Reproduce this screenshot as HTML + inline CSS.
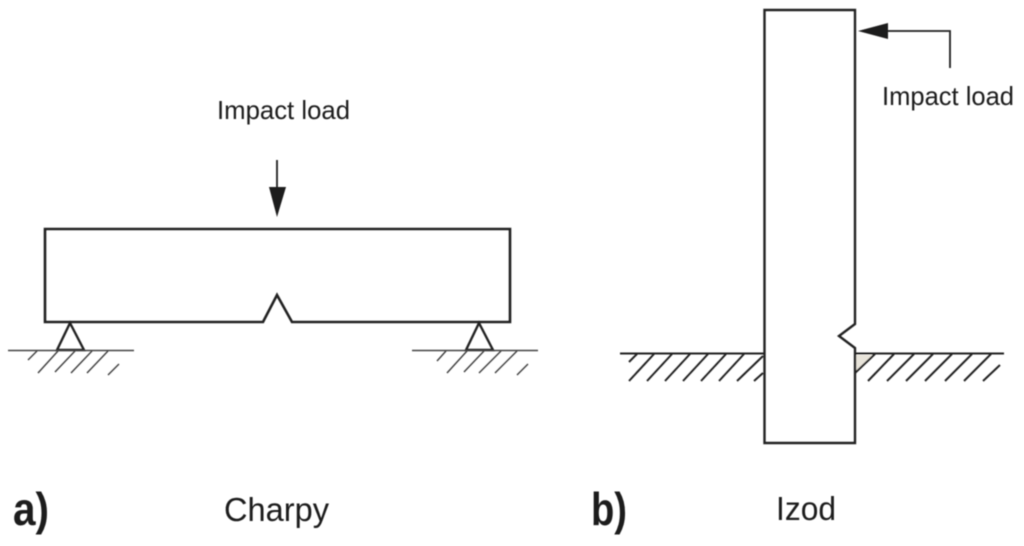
<!DOCTYPE html>
<html>
<head>
<meta charset="utf-8">
<style>
html,body{margin:0;padding:0;background:#fff;width:1024px;height:546px;overflow:hidden}
svg{display:block}
text{font-family:"Liberation Sans",sans-serif;fill:#1c1c1c}
</style>
</head>
<body>
<svg width="1024" height="546" viewBox="0 0 1024 546" xmlns="http://www.w3.org/2000/svg">
<defs><filter id="b" x="-2%" y="-2%" width="104%" height="104%"><feGaussianBlur stdDeviation="0.45"/></filter></defs>
<rect width="1024" height="546" fill="#fff"/>
<g filter="url(#b)">
<!-- Charpy beam -->
<g fill="none" stroke="#222" stroke-width="2.6" stroke-linejoin="miter">
<path d="M45 229H510V322H292L277 295L263 322H45Z"/>
<path d="M70 323L57 350H84Z" stroke-width="2.4"/>
<path d="M479 323L466 350H493Z" stroke-width="2.4"/>
</g>
<g stroke="#444" stroke-width="1.5" fill="none">
<path d="M8 350.500H134M412 350.500H538"/>
<path d="M37 351L28 360M58 351L38 373M75 351L55 372M92 351L71 373M108 351L87 373M119 364L108 375"/>
<path d="M446 351L437 361M467 351L447 373M484 351L464 372M501 351L479 373M517 351L495 373M528 364L517 375"/>
</g>
<!-- Charpy arrow -->
<path d="M277 160V190" stroke="#222" stroke-width="1.800" fill="none"/>
<path d="M269 187H286L277 217Z" fill="#1c1a1a"/>
<!-- Izod ground -->
<path d="M856 355H874L856 372Z" fill="#e8e4da"/>
<g stroke="#222" stroke-width="2" fill="none">
<path d="M620 353.500H764M855 353.500H1004"/>
<path d="M637 354L629 362M654 354L629 381M672 354L647 381M690 354L665 381M708 354L683 381M726 354L701 381M744 354L719 381M763 356L737 381M763 373L754 381"/>
<path d="M875 354L855 373M894 354L868 381M914 354L887 381M933 354L906 381M952 354L925 381M972 354L945 381M991 354L964 381M1000 365L983 381"/>
</g>
<!-- Izod column -->
<path d="M764.500 10H855V324L839 336L855 348V443H764.500Z" fill="none" stroke="#222" stroke-width="2.4"/>
<!-- Izod arrow -->
<path d="M886 31H950V68" stroke="#222" stroke-width="1.800" fill="none"/>
<path d="M858 31L888 23V39Z" fill="#1c1a1a"/>
<!-- Labels -->
<text x="217" y="119" font-size="26" textLength="133" lengthAdjust="spacingAndGlyphs">Impact load</text>
<text x="882" y="105" font-size="26" textLength="132" lengthAdjust="spacingAndGlyphs">Impact load</text>
<text x="224" y="521" font-size="33" textLength="105" lengthAdjust="spacingAndGlyphs">Charpy</text>
<text x="776" y="520" font-size="33" textLength="60" lengthAdjust="spacingAndGlyphs">Izod</text>
<text x="13" y="525" font-size="46" font-weight="bold" textLength="36" lengthAdjust="spacingAndGlyphs">a)</text>
<text x="591" y="525" font-size="46" font-weight="bold" textLength="36" lengthAdjust="spacingAndGlyphs">b)</text>
</g>
</svg>
</body>
</html>
